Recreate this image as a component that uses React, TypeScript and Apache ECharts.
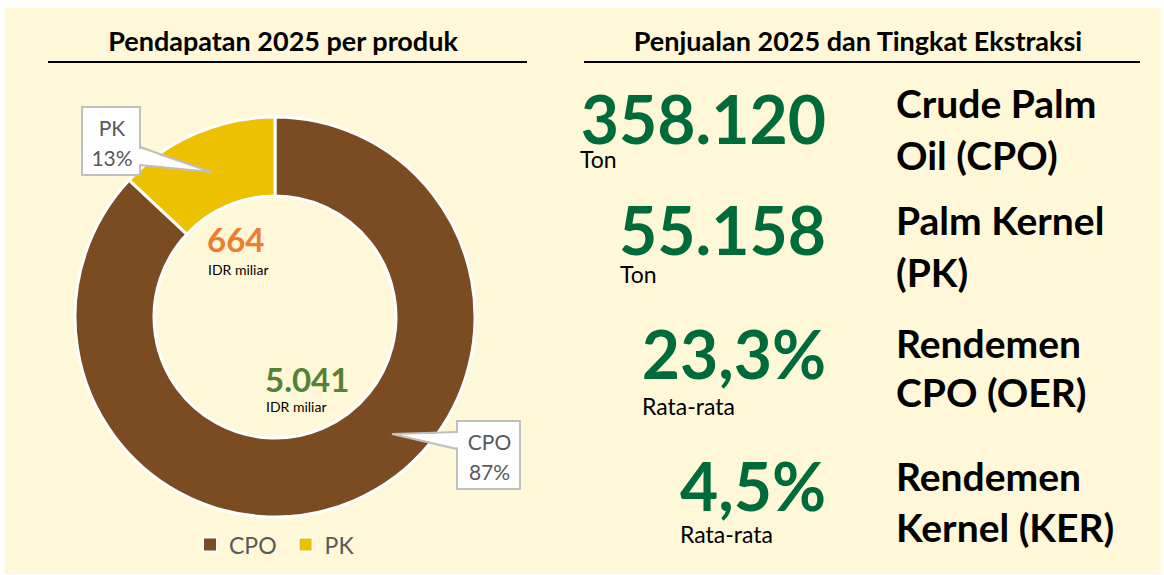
import React, { useEffect, useRef } from "react";
import * as echarts from "echarts";

// ---- data ----
const products = ["CPO", "PK"];
const revenueShare = [87, 13]; // % of revenue (as shown on the donut)
const revenueIdrBn = [5041, 664]; // IDR miliar
const productColors = ["#7B4B22", "#EDC100"];
const centerLabelColors = ["#548235", "#ED7D31"];

const salesTon = [358120, 55158];
const salesUnit = ["Ton", "Ton"];
const extractionRate = [23.3, 4.5];
const extractionUnit = ["Rata-rata", "Rata-rata"];
const metricLabels = [
  ["Crude Palm", "Oil (CPO)"],
  ["Palm Kernel", "(PK)"],
  ["Rendemen", "CPO (OER)"],
  ["Rendemen", "Kernel (KER)"],
];

const leftTitle = "Pendapatan 2025 per produk";
const rightTitle = "Penjualan 2025 dan Tingkat Ekstraksi";
const unitIdr = "IDR miliar";

const FONT = "Lato, 'Noto Sans', sans-serif";

function fmtThousands(n: number): string {
  const s = Math.round(n).toString();
  return s.replace(/\B(?=(\d{3})+(?!\d))/g, ".");
}
function fmtPct(n: number): string {
  return n.toFixed(1).replace(".", ",") + "%";
}

export default function App() {
  const ref = useRef<HTMLDivElement>(null);
  useEffect(() => {
    if (!ref.current) return;
    const chart = echarts.init(ref.current, undefined, { renderer: "svg" });

    const graphics: any[] = [];
    // background
    graphics.push({
      type: "rect",
      shape: { x: 5, y: 8, width: 1156, height: 566 },
      style: { fill: "#FEF7D8" },
      z: -10,
    });
    // titles
    graphics.push({
      type: "text",
      x: 283,
      y: 40,
      style: {
        text: leftTitle,
        font: `bold 27px ${FONT}`,
        fill: "#000",
        textAlign: "center",
        textVerticalAlign: "middle",
      },
    });
    graphics.push({
      type: "line",
      shape: { x1: 48, y1: 62, x2: 527, y2: 62 },
      style: { stroke: "#000", lineWidth: 2 },
    });
    graphics.push({
      type: "text",
      x: 858,
      y: 40,
      style: {
        text: rightTitle,
        font: `bold 27px ${FONT}`,
        fill: "#000",
        textAlign: "center",
        textVerticalAlign: "middle",
      },
    });
    graphics.push({
      type: "line",
      shape: { x1: 584, y1: 62, x2: 1140, y2: 62 },
      style: { stroke: "#000", lineWidth: 2 },
    });

    // center labels (values inside donut)
    const centerPos = [
      { x: 265, y: 379, uy: 406 },
      { x: 207, y: 239, uy: 269 },
    ];
    revenueIdrBn.forEach((v, i) => {
      graphics.push({
        type: "text",
        x: centerPos[i].x,
        y: centerPos[i].y,
        style: {
          text: fmtThousands(v),
          font: `bold 33px ${FONT}`,
          fill: centerLabelColors[i],
          textAlign: "left",
          textVerticalAlign: "middle",
        },
      });
      graphics.push({
        type: "text",
        x: centerPos[i].x + 1,
        y: centerPos[i].uy,
        style: {
          text: unitIdr,
          font: `14px ${FONT}`,
          fill: "#000",
          textAlign: "left",
          textVerticalAlign: "middle",
        },
      });
    });

    // callouts
    const callouts = [
      {
        box: { x: 457, y: 421, w: 63, h: 68 },
        base: [
          [457, 432],
          [457, 449],
        ],
        tip: [392, 434],
      },
      {
        box: { x: 82, y: 107, w: 58, h: 68 },
        base: [
          [140, 147],
          [140, 165],
        ],
        tip: [211, 172],
      },
    ];
    callouts.forEach((c, i) => {
      graphics.push({
        type: "rect",
        shape: { x: c.box.x, y: c.box.y, width: c.box.w, height: c.box.h },
        style: { fill: "#fff", stroke: "#BFBFBF", lineWidth: 2 },
        z: 50,
      });
      const dir = c.tip[0] > c.base[0][0] ? -3 : 3;
      graphics.push({
        type: "polygon",
        shape: {
          points: [
            [c.base[0][0] + dir, c.base[0][1] + 1],
            c.tip,
            [c.base[1][0] + dir, c.base[1][1] - 1],
          ],
        },
        style: { fill: "#fff", stroke: "none" },
        z: 51,
      });
      graphics.push({
        type: "polyline",
        shape: { points: [c.base[0], c.tip, c.base[1]] },
        style: { stroke: "#BFBFBF", lineWidth: 2, fill: "none" },
        z: 52,
      });
      const cx = c.box.x + c.box.w / 2 + 1;
      graphics.push({
        type: "text",
        x: cx,
        y: c.box.y + 20,
        style: {
          text: products[i],
          font: `21px ${FONT}`,
          fill: "#595959",
          textAlign: "center",
          textVerticalAlign: "middle",
        },
        z: 53,
      });
      graphics.push({
        type: "text",
        x: cx,
        y: c.box.y + 50,
        style: {
          text: revenueShare[i] + "%",
          font: `21px ${FONT}`,
          fill: "#595959",
          textAlign: "center",
          textVerticalAlign: "middle",
        },
        z: 53,
      });
    });

    // right panel metrics
    const bigNumbers = [
      fmtThousands(salesTon[0]),
      fmtThousands(salesTon[1]),
      fmtPct(extractionRate[0]),
      fmtPct(extractionRate[1]),
    ];
    const units = [salesUnit[0], salesUnit[1], extractionUnit[0], extractionUnit[1]];
    const numY = [118, 229, 353, 485];
    const unitX = [580, 620, 642, 680];
    const unitY = [159, 274, 406, 534];
    const labelY = [103, 155, 220, 272, 343, 392, 476, 527];
    bigNumbers.forEach((t, i) => {
      graphics.push({
        type: "text",
        x: 826,
        y: numY[i],
        style: {
          text: t,
          font: `bold 66px ${FONT}`,
          fill: "#006B3A",
          textAlign: "right",
          textVerticalAlign: "middle",
        },
      });
      graphics.push({
        type: "text",
        x: unitX[i],
        y: unitY[i],
        style: {
          text: units[i],
          font: `23px ${FONT}`,
          fill: "#000",
          textAlign: "left",
          textVerticalAlign: "middle",
        },
      });
      metricLabels[i].forEach((line, j) => {
        graphics.push({
          type: "text",
          x: 896,
          y: labelY[i * 2 + j],
          style: {
            text: line,
            font: `bold 39px ${FONT}`,
            fill: "#000",
            textAlign: "left",
            textVerticalAlign: "middle",
          },
        });
      });
    });

    chart.setOption({
      animation: false,
      backgroundColor: "#fff",
      color: productColors,
      legend: {
        data: products,
        left: 197,
        top: 528,
        icon: "rect",
        itemWidth: 14,
        itemHeight: 14,
        itemGap: 21,
        textStyle: {
          fontFamily: FONT,
          fontSize: 23,
          color: "#595959",
          padding: [0, 0, 0, 7],
        },
      },
      series: [
        {
          type: "pie",
          center: [275, 317],
          radius: [121, 200],
          startAngle: 90,
          clockwise: true,
          label: { show: false },
          labelLine: { show: false },
          emphasis: { disabled: true },
          itemStyle: { borderColor: "#fff", borderWidth: 3 },
          data: products.map((p, i) => ({
            name: p,
            value: revenueShare[i],
            itemStyle: { color: productColors[i] },
          })),
        },
      ],
      graphic: { elements: graphics },
    });
    return () => chart.dispose();
  }, []);
  return (
    <div
      ref={ref}
      style={{ position: "fixed", left: 0, top: 0, width: 1164, height: 575 }}
    />
  );
}
